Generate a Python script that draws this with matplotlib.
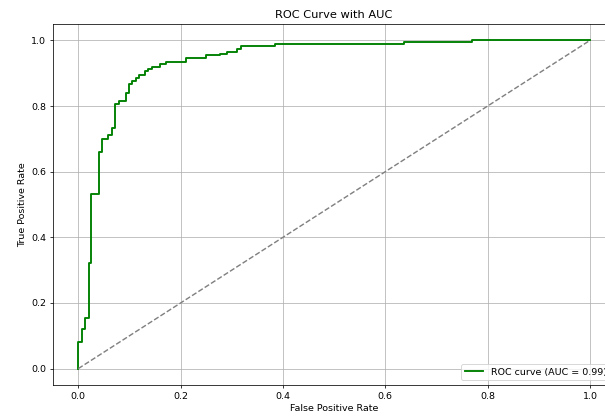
import matplotlib
matplotlib.use("Agg")
import matplotlib.pyplot as plt

# ROC corner points
fpr = [0.0, 0.0, 0.0065, 0.0065, 0.0137, 0.0137, 0.020, 0.020, 0.025, 0.025,
       0.041, 0.041, 0.0457, 0.0457, 0.059, 0.059, 0.066, 0.066, 0.072, 0.072,
       0.079, 0.079, 0.093, 0.093, 0.100, 0.100, 0.105, 0.105, 0.113, 0.113,
       0.119, 0.119, 0.131, 0.131, 0.136, 0.136, 0.144, 0.144, 0.159, 0.159,
       0.172, 0.172, 0.211, 0.211, 0.250, 0.250, 0.277, 0.277, 0.291, 0.291,
       0.310, 0.310, 0.318, 0.318, 0.385, 0.385, 0.636, 0.636, 0.770, 0.770, 1.0]
tpr = [0.0, 0.081, 0.081, 0.122, 0.122, 0.155, 0.155, 0.322, 0.322, 0.533,
       0.533, 0.660, 0.660, 0.700, 0.700, 0.711, 0.711, 0.734, 0.734, 0.805,
       0.805, 0.815, 0.815, 0.840, 0.840, 0.868, 0.868, 0.876, 0.876, 0.885,
       0.885, 0.894, 0.894, 0.906, 0.906, 0.912, 0.912, 0.920, 0.920, 0.927,
       0.927, 0.934, 0.934, 0.947, 0.947, 0.955, 0.955, 0.960, 0.960, 0.966,
       0.966, 0.973, 0.973, 0.982, 0.982, 0.990, 0.990, 0.995, 0.995, 1.0, 1.0]
roc_auc = 0.99

dpi = 68
fig = plt.figure(figsize=(605 / dpi, 416 / dpi), dpi=dpi)
# axes run past the right edge, like the cropped screenshot
ax = fig.add_axes([0.0871, 0.0745, 0.9303, 0.8678])

ax.plot(fpr, tpr, color='green', lw=2, label='ROC curve (AUC = %.2f)' % roc_auc)
ax.plot([0, 1], [0, 1], color='gray', linestyle='--')
ax.set_xlabel('False Positive Rate')
ax.set_ylabel('True Positive Rate')
ax.set_title('ROC Curve with AUC')
ax.legend(loc='lower right')
ax.grid(True)

fig.savefig('out.png', dpi=dpi)
